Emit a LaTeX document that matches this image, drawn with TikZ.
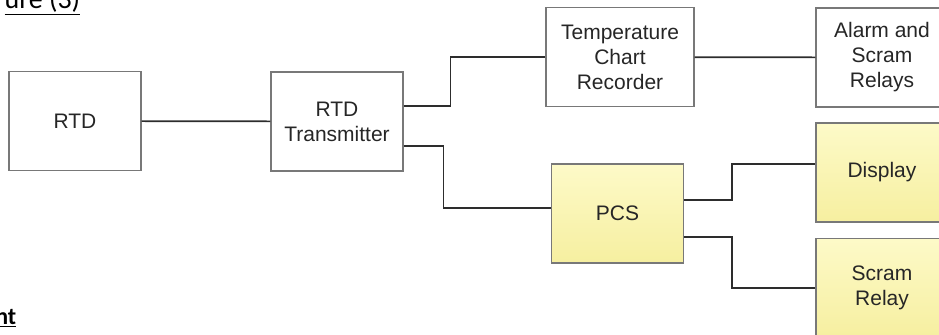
\documentclass[tikz,border=0pt]{standalone}
\usepackage{fontspec}
\setmainfont{Liberation Sans}
\newfontfamily\headfont{Carlito}
\definecolor{boxgray}{RGB}{120,120,120}
\definecolor{wiregray}{RGB}{45,45,45}
\definecolor{pcsyellowL}{RGB}{253,250,200}
\definecolor{pcsyellowD}{RGB}{246,239,160}
\begin{document}
\begin{tikzpicture}[x=0.75pt, y=-0.75pt,
  blk/.style={rectangle, draw=boxgray, line width=0.8pt, minimum width=99pt, minimum height=74.25pt, align=center, font=\fontsize{15.75}{18.75}\selectfont, text=black!85},
  ylw/.style={blk, top color=pcsyellowL, bottom color=pcsyellowD},
  wire/.style={draw=wiregray, line width=1.3pt}]
\useasboundingbox (0,0) rectangle (939,335);
\node[anchor=base west, font=\headfont\fontsize{21}{24}\selectfont] (hdr) at (0,9){\underline{ure (3)}};
\node[anchor=base west, inner sep=0pt, font=\headfont\bfseries\fontsize{18}{22}\selectfont] (ftr) at (-5,324){\underline{nt}};
\node[blk] (rtd) at (75,121){RTD};
\node[blk] (tx) at (337,121.5){RTD\\Transmitter};
\node[blk, minimum width=111pt] (tcr) at (620,57){Temperature\\Chart\\Recorder};
\node[blk] (alm) at (882,57.5){Alarm and\\Scram\\Relays};
\node[ylw] (pcs) at (617.5,213.5){PCS};
\node[ylw] (dsp) at (882,172.5){Display};
\node[ylw] (scr) at (882,288){Scram\\Relay};
\draw[wire](rtd) -- (tx);
\draw[wire]([yshift=11.6pt]tx.east) -- ++(47,0) |- (tcr.west);
\draw[wire]([yshift=-18.4pt]tx.east) -- ++(40,0) |- ([yshift=4pt]pcs.west);
\draw[wire](tcr) -- (alm);
\draw[wire]([yshift=10.1pt]pcs.east) -- ++(48,0) |- ([yshift=6.4pt]dsp.west);
\draw[wire]([yshift=-17.6pt]pcs.east) -- ++(48,0) |- (scr.west);
\end{tikzpicture}
\end{document}
